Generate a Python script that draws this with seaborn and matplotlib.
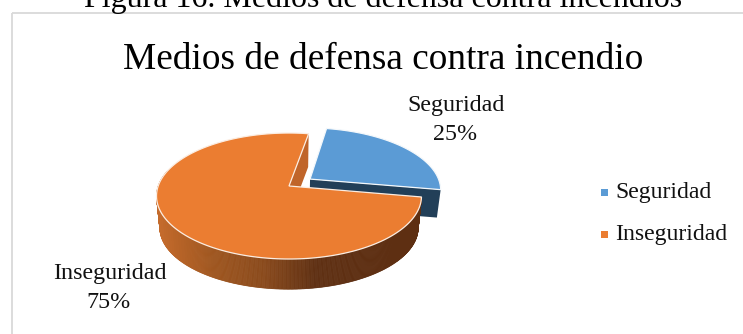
import numpy as np
import matplotlib
matplotlib.use("Agg")
import matplotlib.pyplot as plt
from matplotlib.patches import Polygon, Rectangle
import seaborn as sns

# Survey shares
categories = ["Seguridad", "Inseguridad"]
shares = [25, 75]
slice_colors = ["#5B9BD5", "#EB7D31"]
title_text = "Medios de defensa contra incendio"
caption_text = "Figura 16. Medios de defensa contra incendios"

sns.set_theme(style="white")
plt.rcParams["font.family"] = ["Liberation Serif", "DejaVu Serif"]

W, H = 743, 334
fig = plt.figure(figsize=(W / 100, H / 100), dpi=100, facecolor="white")
ax = fig.add_axes([0, 0, 1, 1])
ax.set_xlim(0, W)
ax.set_ylim(H, 0)
ax.axis("off")

# Perspective model of the pie disc
CX, CY = 289.0, 186.0
A, B, K = 130.8, 61.4, 0.159
DROP, SHRINK = 32.0, 0.975
WALL_DROP = 28.0
START = 10.0
EXPLODE = 0.2


def top_face(u, v):
    w = 1 + K * v
    return CX + A * u / w, CY - B * v / w


def low_face(u, v, drop=DROP):
    x, y = top_face(u, v)
    return CX + SHRINK * (x - CX), CY + drop + SHRINK * (y - CY)


def rim(a0, a1, n, off=(0.0, 0.0)):
    t = np.radians(np.linspace(a0, a1, n))
    return np.sin(t) + off[0], np.cos(t) + off[1]


angles = START + 360 * np.cumsum([0] + shares) / sum(shares)

# Exploded slice: bisector direction sets the offset
mid = np.radians((angles[0] + angles[1]) / 2)
off = (EXPLODE * np.sin(mid), EXPLODE * np.cos(mid))
u, v = rim(angles[0], angles[1], 60, off)

# Front wall of the exploded slice
ax_x, ax_y = top_face(*off)
lx, ly = low_face(*off, drop=WALL_DROP)
ex, ey = top_face(u[-1], v[-1])
fx, fy = low_face(u[-1], v[-1], drop=WALL_DROP)
ax.add_patch(Polygon([(ax_x, ax_y), (ex, ey), (fx, fy), (lx, ly)],
                     closed=True, fc="#223F58", ec="none", zorder=2))
xs, ys = top_face(u, v)
ax.add_patch(Polygon(np.r_[[(ax_x, ax_y)], np.c_[xs, ys]], closed=True,
                     fc=slice_colors[0], ec="#F4F8FB", lw=0.9, zorder=3))

# Cut wall of the large slice, seen through the gap
p0 = top_face(0.0, 0.0)
q0 = low_face(0.0, 0.0)
t0 = np.radians(angles[0])
p1 = top_face(np.sin(t0), np.cos(t0))
q1 = low_face(np.sin(t0), np.cos(t0))
ax.add_patch(Polygon([p0, p1, q1, q0], closed=True, fc="#C0652A", ec="none", zorder=4))

# Outer rim of the large slice, shaded from left to right
shade = sns.blend_palette(["#C46B2C", "#A05720", "#8A4A1C", "#5F3013", "#5E2F12", "#5E2F12"], 101)
u, v = rim(angles[1], angles[2], 540)
tx, ty = top_face(u, v)
bx, by = low_face(u, v)
span = tx.max() - tx.min()
for i in range(len(u) - 1):
    if v[i] > 0.25 and v[i + 1] > 0.25:
        continue
    level = int(np.clip((tx[i] - tx.min()) / span * 100, 0, 100))
    c = shade[level]
    ax.add_patch(Polygon([(tx[i], ty[i]), (tx[i + 1], ty[i + 1]),
                          (bx[i + 1], by[i + 1]), (bx[i], by[i])],
                         closed=True, fc=c, ec=c, lw=0.5, zorder=5))

# Top of the large slice
ax.add_patch(Polygon(np.r_[[p0], np.c_[tx, ty]], closed=True,
                     fc=slice_colors[1], ec="#FBEDE2", lw=0.9, zorder=6))

# Chart frame and captions
ax.add_patch(Rectangle((11.5, 12.7), 760, 400, fc="none", ec="#D9D9D9", lw=1.3, zorder=1))
ax.text(383.5, 7, caption_text, ha="center", va="baseline", fontsize=23, color="black", zorder=8)
ax.text(383, 69, title_text, ha="center", va="baseline", fontsize=26.8, color="black", zorder=8)

# Data labels
ink = "#111111"
ax.text(456.5, 111, categories[0], ha="center", va="baseline", fontsize=17.3, color=ink)
ax.text(455, 140, f"{shares[0]}%", ha="center", va="baseline", fontsize=17.3, color=ink)
ax.text(110, 279, categories[1], ha="center", va="baseline", fontsize=17.3, color=ink)
ax.text(109, 308, f"{shares[1]}%", ha="center", va="baseline", fontsize=17.3, color=ink)

# Legend
for name, color, y in zip(categories, slice_colors, (198, 240)):
    ax.add_patch(Rectangle((601, y - 9), 6.5, 6.5, fc=color, ec="none"))
    ax.text(615.5, y, name, ha="left", va="baseline", fontsize=17.1, color=ink)

fig.savefig("out.png", dpi=100)
